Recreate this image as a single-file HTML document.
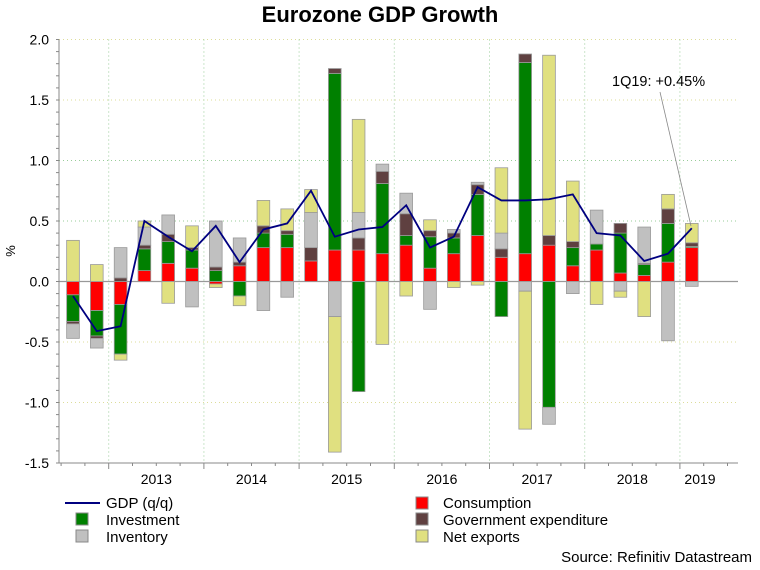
<!DOCTYPE html>
<html><head><meta charset="utf-8"><style>
body{margin:0;background:#fff;}
svg text{font-family:"Liberation Sans",Arial,sans-serif;}
</style></head><body>
<svg id="chart" width="760" height="565" xmlns="http://www.w3.org/2000/svg">
<text x="380" y="22" text-anchor="middle" font-size="22" font-weight="bold">Eurozone GDP Growth</text>
<text transform="translate(15,251) rotate(-90)" text-anchor="middle" font-size="13">%</text>
<g id="grid"></g>
<g id="bars"></g>
<g id="axes"></g>
<g id="line"></g>
<text x="612" y="86" font-size="14.5">1Q19: +0.45%</text>
<line x1="660" y1="92" x2="691" y2="226" stroke="#888" stroke-width="0.8"/>
<g font-size="15">
<line x1="65" y1="503" x2="100" y2="503" stroke="#000080" stroke-width="2"/>
<text x="106" y="508">GDP (q/q)</text>
<rect x="76" y="513" width="12" height="12" fill="#008000" stroke="#888"/>
<text x="106" y="525">Investment</text>
<rect x="76" y="530" width="12" height="12" fill="#c0c0c0" stroke="#888"/>
<text x="106" y="542">Inventory</text>
<rect x="416" y="497" width="12" height="12" fill="#ff0000" stroke="#888"/>
<text x="443" y="508">Consumption</text>
<rect x="416" y="513" width="12" height="12" fill="#5f4040" stroke="#888"/>
<text x="443" y="525">Government expenditure</text>
<rect x="416" y="530" width="12" height="12" fill="#e0e080" stroke="#888"/>
<text x="443" y="542">Net exports</text>
</g>
<text x="752" y="562" text-anchor="end" font-size="15">Source: Refinitiv Datastream</text>
</svg>
<script>
const years = ["2013","2014","2015","2016","2017","2018","2019"];
const yTicks = [2.0,1.5,1.0,0.5,0.0,-0.5,-1.0,-1.5];
const consumption = [-0.11,-0.24,-0.19,0.09,0.15,0.11,-0.02,0.13,0.28,0.28,0.17,0.26,0.26,0.23,0.30,0.11,0.23,0.38,0.20,0.23,0.30,0.13,0.26,0.07,0.05,0.16,0.28];
const investment = [-0.22,-0.21,-0.41,0.18,0.18,0.15,0.09,-0.12,0.12,0.11,0.0,1.46,-0.91,0.58,0.08,0.26,0.13,0.34,-0.29,1.58,-1.04,0.15,0.05,0.33,0.09,0.32,0.01];
const government = [-0.02,-0.02,0.03,0.03,0.06,0.02,0.03,0.03,0.06,0.03,0.11,0.04,0.10,0.10,0.18,0.05,0.04,0.08,0.07,0.07,0.08,0.05,0.0,0.08,0.01,0.12,0.03];
const inventory = [-0.12,-0.08,0.25,0.15,0.16,-0.21,0.38,0.20,-0.24,-0.13,0.29,-0.29,0.21,0.06,0.17,-0.23,0.03,0.02,0.13,-0.08,-0.14,-0.10,0.28,-0.08,0.30,-0.49,-0.04];
const netExports = [0.34,0.14,-0.05,0.05,-0.18,0.18,-0.03,-0.08,0.21,0.18,0.19,-1.12,0.77,-0.52,-0.12,0.09,-0.05,-0.03,0.54,-1.14,1.49,0.50,-0.19,-0.05,-0.29,0.12,0.16];
const gdp = [-0.12,-0.41,-0.37,0.50,0.37,0.25,0.46,0.16,0.43,0.48,0.75,0.37,0.43,0.45,0.63,0.28,0.37,0.78,0.67,0.67,0.68,0.72,0.40,0.38,0.17,0.23,0.44];

const NS="http://www.w3.org/2000/svg";
const L=59,R=738,T=39.5,B=463;
const yMin=-1.5,yMax=2.0;
const n=gdp.length;
const step=23.8,x0=73;
function xq(i){return x0+i*step;}
function y(v){return B-(v-yMin)/(yMax-yMin)*(B-T);}
function mk(tag,attrs,parent){const e=document.createElementNS(NS,tag);for(const k in attrs)e.setAttribute(k,attrs[k]);parent.appendChild(e);return e;}
const grid=document.getElementById('grid'),axes=document.getElementById('axes'),bars=document.getElementById('bars'),lineG=document.getElementById('line');

yTicks.forEach(v=>{
  if(v!==0 && v!==yMin){
    const g=mk('line',{x1:L,x2:R,y1:y(v),y2:y(v),stroke:(v===1.0||v===0.5)?'#9c9':'#dd9',"stroke-width":1,"stroke-dasharray":"1,3"},grid);
    
    
  }
  const t=mk('text',{x:L-10,y:y(v)+5,"text-anchor":"end","font-size":14},axes);
  t.textContent=v.toFixed(1);
  
  
});
for(let v=-1.5;v<=2.001;v+=0.1){
  const tk=mk('line',{x1:L-3,x2:L,y1:y(v),y2:y(v),stroke:'#888'},axes);
  
  
}
years.forEach((yr,k)=>{
  const bx=xq(2+4*k)-step/2;
  if(bx<R){
    const g=mk('line',{x1:bx,x2:bx,y1:T,y2:B,stroke:'#9c9',"stroke-dasharray":"1,3"},grid);
    
    
  }
  let cx=Math.min(bx+2*step,700);
  const t=mk('text',{x:cx,y:B+21,"text-anchor":"middle","font-size":14},axes);
  t.textContent=yr;
  
  
});
for(let i=0;i<=n+1;i++){
  const bx=xq(i)-step/2;
  if(bx<L||bx>R)continue;
  const major=((i-2)%4===0);
  const tk=mk('line',{x1:bx,x2:bx,y1:B,y2:B+(major?6:3),stroke:'#888'},axes);
  
  
}
const za=mk('line',{x1:L,x2:R,y1:y(0),y2:y(0),stroke:'#999',"stroke-width":1.2},grid);


const ya=mk('line',{x1:L,x2:L,y1:T,y2:B,stroke:'#888'},axes);


const xa=mk('line',{x1:L,x2:R,y1:B,y2:B,stroke:'#888'},axes);



const series=[[consumption,'#ff0000','consumption'],[investment,'#008000','investment'],[government,'#5f4040','government'],[inventory,'#c0c0c0','inventory'],[netExports,'#e0e080','net-exports']];
const bw=12.7;
for(let i=0;i<n;i++){
  let pos=0,neg=0;
  series.forEach(([arr,col,name])=>{
    const v=arr[i];if(v===0)return;
    let a,b;
    if(v>0){a=pos;b=pos+v;pos=b;}else{a=neg;b=neg+v;neg=b;}
    const r=mk('rect',{x:xq(i)-bw/2,y:Math.min(y(a),y(b)),width:bw,height:Math.abs(y(a)-y(b)),fill:col,stroke:'#999',"stroke-width":0.8},bars);
    
    
  });
}
let d='';
gdp.forEach((v,i)=>{d+=(i?'L':'M')+xq(i)+','+y(v);});
const p=mk('path',{d:d,fill:'none',stroke:'#000080',"stroke-width":1.8},lineG);


</script>
</body></html>
